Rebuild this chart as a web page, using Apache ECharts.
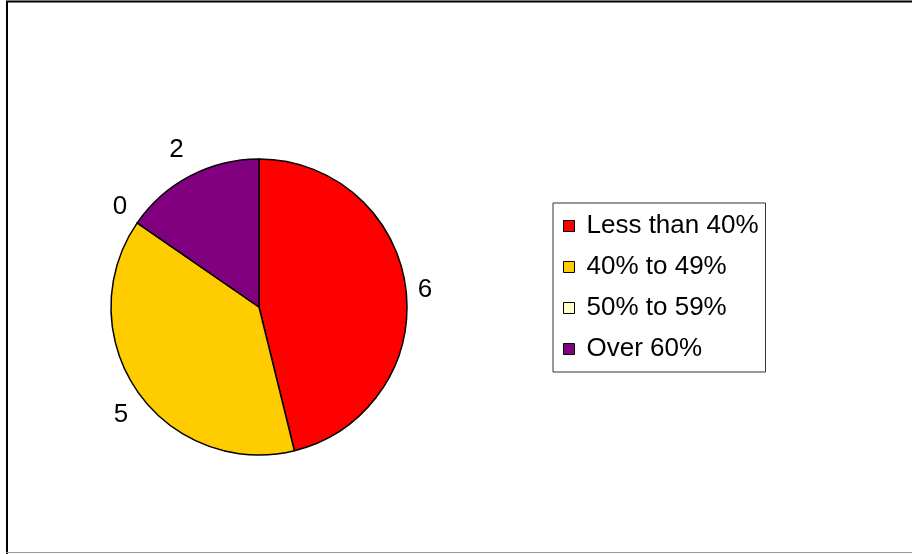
<!DOCTYPE html>
<html>
<head>
<meta charset="utf-8">
<script src="https://cdn.jsdelivr.net/npm/echarts@6/dist/echarts.min.js"></script>
<style>
html,body{margin:0;padding:0;background:#fff;}
#chart{width:912px;height:554px;}
</style>
</head>
<body>
<div id="chart"></div>
<script>
const categories = ['Less than 40%', '40% to 49%', '50% to 59%', 'Over 60%'];
const values = [6, 5, 0, 2];
const colors = ['#FF0000', '#FFCC00', '#FFFFCC', '#800080'];
// small label nudges (pixels) to match the reference's label placement
const labelNudge = [[-5, 2], [6, 17], [5, -9], [4, -15]];

const chart = echarts.init(document.getElementById('chart'));
const data = categories.map((c, i) => ({
  name: c,
  value: values[i],
  itemStyle: { color: colors[i] }
}));

chart.setOption({
  backgroundColor: '#ffffff',
  animation: false,
  graphic: [
    { type: 'line', shape: { x1: 6, y1: 1.5, x2: 912, y2: 1.5 }, style: { stroke: '#000', lineWidth: 2 } },
    { type: 'line', shape: { x1: 7, y1: 1, x2: 7, y2: 554 }, style: { stroke: '#000', lineWidth: 2 } },
    { type: 'line', shape: { x1: 6, y1: 552.5, x2: 912, y2: 552.5 }, style: { stroke: '#999', lineWidth: 1 } }
  ],
  legend: {
    orient: 'vertical',
    left: 553,
    top: 203,
    padding: [10, 7, 10, 10],
    itemGap: 15,
    itemWidth: 11,
    itemHeight: 11,
    icon: 'rect',
    borderColor: '#333',
    borderWidth: 1,
    selectedMode: false,
    itemStyle: { borderColor: '#000', borderWidth: 1 },
    textStyle: {
      fontFamily: 'Liberation Sans, Arial, sans-serif',
      fontSize: 26,
      color: '#000',
      padding: [0, 0, 0, 7]
    },
    data: categories
  },
  series: [{
    type: 'pie',
    center: [259, 307],
    radius: 148,
    startAngle: 90,
    clockwise: true,
    avoidLabelOverlap: false,
    itemStyle: { borderColor: '#000', borderWidth: 1.5 },
    label: {
      show: true,
      position: 'outside',
      formatter: '{c}',
      fontFamily: 'Liberation Sans, Arial, sans-serif',
      fontSize: 26,
      color: '#000'
    },
    labelLine: { show: false, length: 12, length2: 0 },
    labelLayout: function (p) {
      const n = labelNudge[p.dataIndex];
      return { dx: n[0], dy: n[1] };
    },
    emphasis: { disabled: true },
    data: data
  }]
});
</script>
</body>
</html>
